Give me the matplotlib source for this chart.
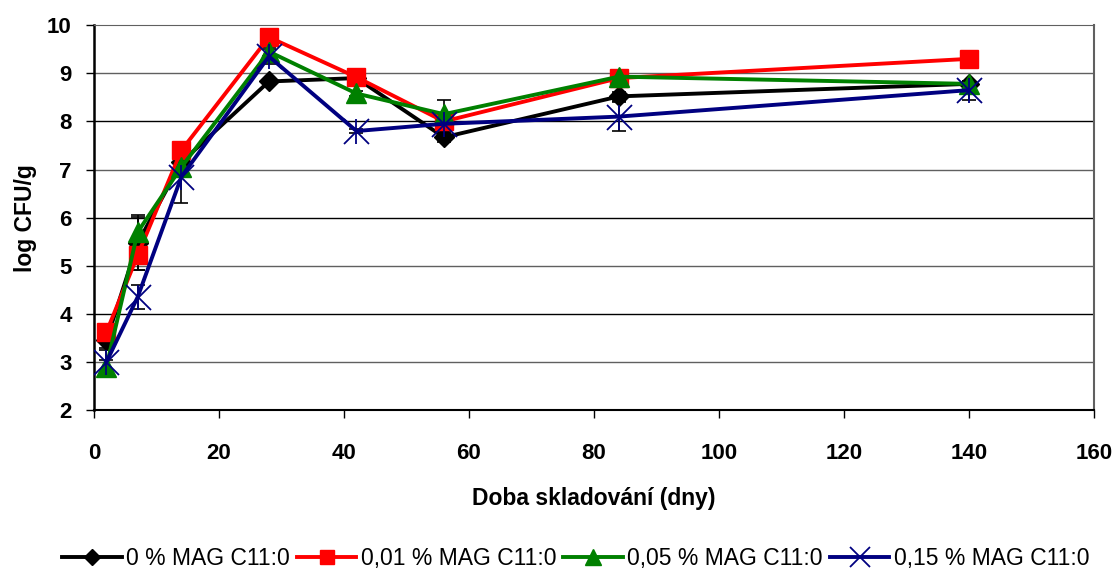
import numpy as np
import matplotlib.pyplot as plt

plt.rcParams['font.family'] = ['Liberation Sans', 'DejaVu Sans']

# Storage time (days)
days = [2, 7, 14, 28, 42, 56, 84, 140]

# log CFU/g for each MAG C11:0 concentration
mag_0 = [3.45, 5.47, 7.15, 8.83, 8.90, 7.67, 8.52, 8.78]
mag_001 = [3.62, 5.22, 7.40, 9.75, 8.92, 8.00, 8.90, 9.30]
mag_005 = [2.90, 5.70, 7.05, 9.45, 8.58, 8.15, 8.93, 8.78]
mag_015 = [3.00, 4.35, 6.85, 9.35, 7.80, 7.95, 8.10, 8.65]

# standard deviations
sd_0 = [0.15, 0.55, 0.10, 0.05, 0.05, 0.10, 0.10, 0.05]
sd_001 = [0.10, 0.30, 0.10, 0.15, 0.05, 0.10, 0.05, 0.05]
sd_005 = [0.15, 0.35, 0.10, 0.10, 0.05, 0.30, 0.05, 0.05]
sd_015 = [0.25, 0.25, 0.55, 0.15, 0.05, 0.10, 0.30, 0.20]

labels = ['0 % MAG C11:0', '0,01 % MAG C11:0', '0,05 % MAG C11:0', '0,15 % MAG C11:0']
series = [mag_0, mag_001, mag_005, mag_015]
errors = [sd_0, sd_001, sd_005, sd_015]
colors = ['black', '#ff0000', '#008000', '#000080']
markers = ['D', 's', '^', 'x']
msizes = [10, 13, 14, 18]

fig = plt.figure(figsize=(11.18, 5.72), dpi=100)
ax = fig.add_axes([0.084, 0.283, 0.8945, 0.673])

for y in range(3, 10):
    ax.axhline(y, color='#606060' if y % 2 else 'black', linewidth=1.0, zorder=0)
ax.axhline(10, color='#606060', linewidth=1.2, zorder=0)

handles = []
for vals, err, lab, c, m, ms in zip(series, errors, labels, colors, markers, msizes):
    ax.errorbar(days, vals, yerr=err, fmt='none', ecolor='black',
                elinewidth=1.2, capsize=5, capthick=1.2, zorder=2)
    if m == 'x':
        h, = ax.plot(days, vals, color=c, linewidth=2.8, marker='x',
                     markersize=ms, markeredgewidth=1.3, label=lab, zorder=3)
        ax.plot(days, vals, linestyle='none', marker='|', color=c,
                markersize=ms, markeredgewidth=1.3, zorder=3)
    else:
        h, = ax.plot(days, vals, color=c, linewidth=2.8, marker=m,
                     markersize=ms, markeredgecolor=c, label=lab, zorder=3)
    handles.append(h)

ax.set_xlim(0, 160)
ax.set_ylim(2, 10)
ax.set_xticks(np.arange(0, 161, 20))
ax.set_yticks(np.arange(2, 11, 1))
ax.tick_params(axis='both', direction='out', length=6, width=1,
               labelsize=16)
for t in ax.get_xticklabels() + ax.get_yticklabels():
    t.set_fontweight('bold')
ax.tick_params(axis='x', pad=18)
ax.tick_params(axis='y', pad=10)

ax.spines['left'].set_linewidth(1.8)
ax.spines['bottom'].set_linewidth(1.5)
ax.spines['top'].set_color('#606060')
ax.spines['right'].set_color('#606060')
ax.spines['right'].set_linewidth(1.5)

ax.set_xlabel('Doba skladování (dny)', fontsize=16.5, fontweight='bold', labelpad=16)
ax.set_ylabel('log CFU/g', fontsize=16.5, fontweight='bold', labelpad=7)

fig.legend(handles=handles, loc='lower center', ncol=4, frameon=False,
           bbox_to_anchor=(0.515, -0.032), fontsize=16.5, handlelength=2.6,
           handletextpad=0.2, columnspacing=0.3, markerscale=0.8)

fig.savefig('out.png', dpi=100)
